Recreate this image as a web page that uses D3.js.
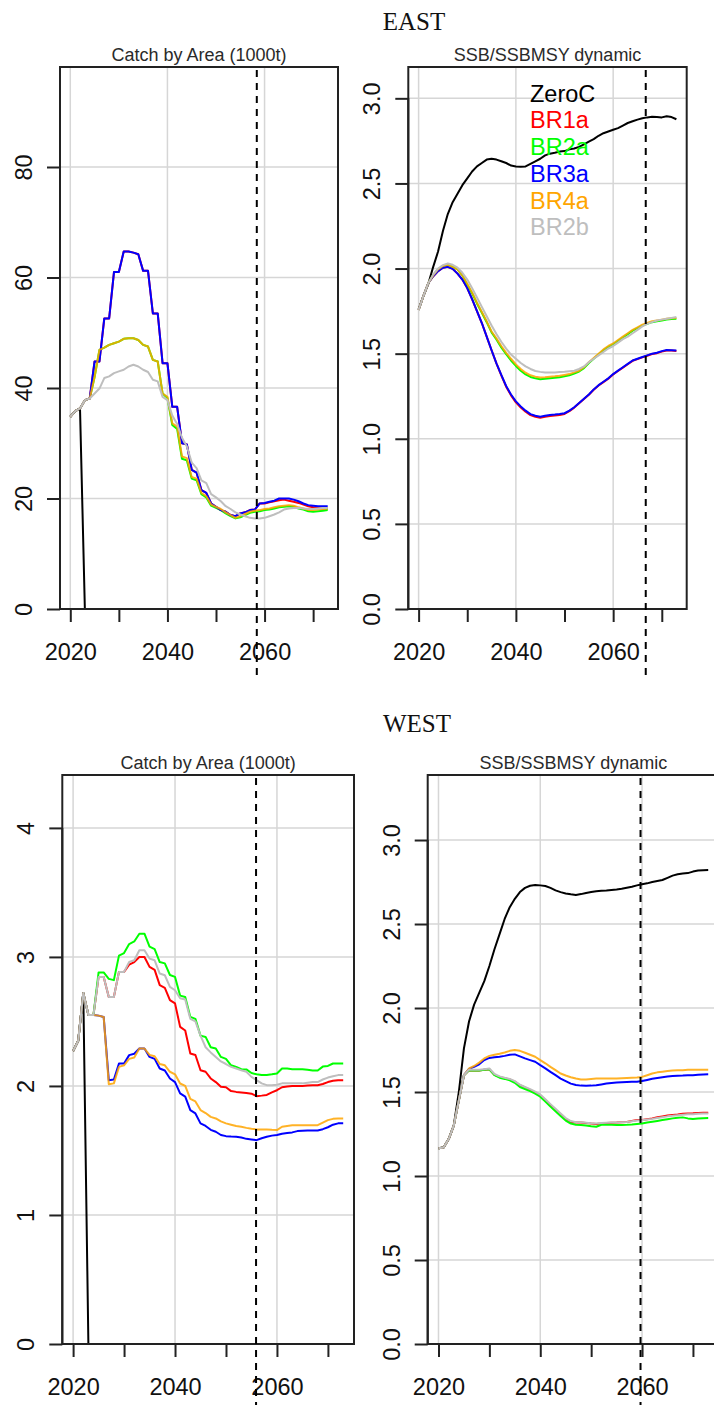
<!DOCTYPE html>
<html>
<head>
<meta charset="utf-8">
<script src="https://cdn.jsdelivr.net/npm/d3@7"></script>
<style>
  html, body { margin: 0; padding: 0; background: #ffffff; }
  svg { display: block; }
  text { font-family: "Liberation Sans", Arial, Helvetica, sans-serif; }
</style>
</head>
<body>
<svg id="chart" width="714" height="1405"></svg>
<script>
// ---------------- DATA ----------------
const years = [2020,2021,2022,2023,2024,2025,2026,2027,2028,2029,
  2030,2031,2032,2033,2034,2035,2036,2037,2038,2039,
  2040,2041,2042,2043,2044,2045,2046,2047,2048,2049,
  2050,2051,2052,2053,2054,2055,2056,2057,2058,2059,
  2060,2061,2062,2063,2064,2065,2066,2067,2068,2069,
  2070,2071,2072,2073];

const seriesNames = ["ZeroC", "BR1a", "BR2a", "BR3a", "BR4a", "BR2b"];
const seriesColors = ["#000000", "#ff0000", "#00ff00", "#0000ff", "#ffa500", "#bebebe"];

const regionLabels = ["EAST", "WEST"];
const panelTitles = ["Catch by Area (1000t)", "SSB/SSBMSY dynamic"];

const xTickYears = [2020, 2030, 2040, 2050, 2060, 2070];
const xLabelYears = [2020, 2040, 2060];
const gridYears = [2020, 2040, 2060];
const eastCatchTicks = [0, 20, 40, 60, 80];
const westCatchTicks = [0, 1, 2, 3, 4];
const ssbTicks = [0, 0.5, 1, 1.5, 2, 2.5, 3];
// vertical dashed reference year: eastCatch, eastSsb, westCatch, westSsb
const markYears = [2058.4, 2066.7, 2055.9, 2059.7];

// EAST catch (1000 t)
const eastCatchZeroC = [34.8,35.8,36.3,0,0,0,0,0,0,0,
  0,0,0,0,0,0,0,0,0,0, 0,0,0,0,0,0,0,0,0,0, 0,0,0,0,0,0,0,0,0,0, 0,0,0,0,0,0,0,0,0,0, 0,0,0,0];
const eastCatchBR1a = [34.8,35.8,36.3,37.8,38.1,44.8,44.8,52.6,52.6,61.0,
  61.0,64.7,64.7,64.5,64.2,61.2,61.2,53.5,53.5,44.5,
  44.5,36.6,36.6,30.0,29.8,25.2,24.7,21.5,21.0,19.1,
  18.5,17.9,17.6,17.0,16.8,17.3,17.5,17.9,18.0,19.1,
  19.1,19.3,19.5,19.7,19.8,19.6,19.4,19.2,18.9,18.6,
  18.4,18.3,18.2,18.2];
const eastCatchBR2a = [34.8,35.8,36.3,37.8,38.1,42.0,46.9,47.3,47.8,48.1,
  48.4,48.9,49.0,49.0,48.7,47.8,47.5,45.1,44.8,39.0,
  38.2,33.3,32.6,27.2,26.9,23.6,23.3,20.8,20.2,18.7,
  18.3,17.9,17.3,16.8,16.4,16.6,17.0,17.4,17.6,17.7,
  17.9,18.0,18.2,18.4,18.5,18.6,18.5,18.2,18.0,17.7,
  17.6,17.7,17.8,17.9];
const eastCatchBR3a = [34.8,35.8,36.3,37.8,38.1,44.8,44.8,52.6,52.6,61.0,
  61.0,64.7,64.7,64.5,64.2,61.2,61.2,53.5,53.5,44.5,
  44.5,36.6,36.6,30.0,29.8,25.2,24.7,21.5,21.0,19.1,
  18.5,17.9,17.6,17.0,16.8,17.3,17.5,17.9,18.0,19.1,
  19.2,19.4,19.6,20.0,20.0,20.0,19.8,19.5,19.1,18.8,
  18.7,18.6,18.6,18.6];
const eastCatchBR4a = [34.8,35.8,36.3,37.8,38.1,42.0,46.9,47.3,47.8,48.1,
  48.4,48.9,49.0,49.0,48.7,47.8,47.5,45.1,44.8,39.0,
  38.4,33.6,33.0,27.6,27.3,23.9,23.6,21.0,20.4,18.9,
  18.5,18.1,17.5,17.0,16.5,16.8,17.2,17.6,17.8,17.9,
  18.1,18.2,18.4,18.6,18.7,18.8,18.7,18.4,18.2,17.9,
  17.9,18.0,18.1,18.2];
const eastCatchBR2b = [34.8,35.8,36.3,37.8,38.1,39.0,39.9,41.8,42.1,42.7,
  43.0,43.3,43.9,44.2,43.9,43.3,42.9,41.5,41.2,38.4,
  37.8,35.0,33.5,31.0,29.4,26.5,25.5,23.3,22.8,20.8,
  20.2,19.5,18.6,18.1,17.5,17.1,16.8,16.5,16.4,16.4,
  16.5,16.8,17.1,17.5,18.0,18.2,18.3,18.3,18.2,18.1,
  18.1,18.2,18.3,18.3];

// EAST SSB/SSBMSY
const eastSsbZeroC = [1.76,1.84,1.91,2.01,2.10,2.22,2.32,2.39,2.44,2.49,
  2.53,2.57,2.60,2.62,2.64,2.645,2.64,2.63,2.62,2.605,
  2.60,2.598,2.60,2.615,2.63,2.645,2.665,2.675,2.68,2.687,
  2.69,2.70,2.705,2.715,2.73,2.745,2.76,2.78,2.795,2.805,
  2.815,2.825,2.84,2.855,2.865,2.875,2.883,2.888,2.892,2.89,
  2.888,2.895,2.89,2.877];
const eastSsbBR1a = [1.757,1.84,1.915,1.955,1.985,2.005,2.01,1.998,1.97,1.935,
  1.885,1.82,1.75,1.68,1.60,1.52,1.443,1.372,1.306,1.255,
  1.214,1.184,1.159,1.139,1.129,1.124,1.129,1.134,1.137,1.14,
  1.146,1.162,1.183,1.208,1.233,1.258,1.288,1.313,1.333,1.353,
  1.378,1.398,1.418,1.438,1.458,1.468,1.478,1.488,1.498,1.503,
  1.512,1.518,1.518,1.516];
const eastSsbBR2a = [1.757,1.84,1.915,1.96,1.995,2.015,2.022,2.01,1.995,1.96,
  1.905,1.855,1.795,1.74,1.685,1.625,1.583,1.537,1.497,1.46,
  1.428,1.40,1.378,1.363,1.355,1.35,1.352,1.355,1.358,1.362,
  1.367,1.373,1.383,1.395,1.415,1.445,1.47,1.495,1.52,1.54,
  1.555,1.575,1.595,1.615,1.635,1.65,1.665,1.675,1.685,1.69,
  1.695,1.70,1.703,1.705];
const eastSsbBR3a = [1.757,1.84,1.915,1.955,1.985,2.005,2.01,1.998,1.97,1.935,
  1.885,1.82,1.75,1.68,1.60,1.52,1.443,1.375,1.31,1.26,
  1.22,1.19,1.165,1.145,1.135,1.13,1.135,1.14,1.142,1.145,
  1.15,1.165,1.185,1.21,1.235,1.26,1.29,1.315,1.335,1.355,
  1.38,1.40,1.42,1.44,1.46,1.47,1.48,1.49,1.50,1.505,
  1.515,1.522,1.52,1.518];
const eastSsbBR4a = [1.757,1.84,1.915,1.96,1.995,2.015,2.022,2.01,1.995,1.96,
  1.91,1.86,1.80,1.745,1.69,1.63,1.59,1.545,1.505,1.47,
  1.437,1.41,1.388,1.373,1.365,1.36,1.362,1.365,1.367,1.37,
  1.375,1.38,1.39,1.40,1.42,1.45,1.475,1.50,1.525,1.545,
  1.56,1.58,1.60,1.62,1.64,1.655,1.67,1.68,1.69,1.695,
  1.70,1.705,1.708,1.71];
const eastSsbBR2b = [1.757,1.84,1.915,1.965,2.00,2.02,2.03,2.022,2.005,1.975,
  1.935,1.885,1.83,1.775,1.72,1.665,1.615,1.57,1.53,1.495,
  1.47,1.445,1.425,1.41,1.398,1.393,1.39,1.39,1.39,1.392,
  1.394,1.397,1.40,1.41,1.425,1.45,1.47,1.49,1.51,1.53,
  1.545,1.565,1.585,1.60,1.62,1.64,1.66,1.675,1.685,1.695,
  1.70,1.705,1.71,1.715];

// WEST catch (1000 t)
const westCatchZeroC = [2.27,2.35,2.72,0,0,0,0,0,0,0,
  0,0,0,0,0,0,0,0,0,0, 0,0,0,0,0,0,0,0,0,0, 0,0,0,0,0,0,0,0,0,0, 0,0,0,0,0,0,0,0,0,0, 0,0,0,0];
const westCatchBR1a = [2.27,2.35,2.72,2.55,2.55,2.845,2.845,2.69,2.69,2.884,
  2.884,2.94,2.96,3.0,3.0,2.923,2.90,2.781,2.76,2.665,
  2.64,2.458,2.43,2.252,2.24,2.122,2.11,2.058,2.03,1.993,
  1.99,1.96,1.954,1.95,1.946,1.94,1.921,1.925,1.93,1.95,
  1.967,1.99,1.995,2.0,2.0,2.0,2.003,2.005,2.006,2.015,
  2.03,2.04,2.045,2.045];
const westCatchBR2a = [2.27,2.35,2.72,2.55,2.55,2.88,2.88,2.83,2.82,3.01,
  3.03,3.10,3.12,3.18,3.18,3.08,3.06,2.96,2.95,2.86,
  2.845,2.70,2.69,2.535,2.52,2.39,2.38,2.30,2.29,2.225,
  2.21,2.16,2.148,2.13,2.128,2.10,2.09,2.084,2.085,2.09,
  2.097,2.135,2.135,2.13,2.13,2.13,2.125,2.12,2.12,2.15,
  2.155,2.174,2.174,2.174];
const westCatchBR3a = [2.27,2.35,2.72,2.55,2.55,2.545,2.535,2.045,2.05,2.174,
  2.174,2.239,2.25,2.29,2.29,2.225,2.21,2.135,2.12,2.058,
  2.03,1.942,1.917,1.813,1.787,1.71,1.69,1.66,1.645,1.62,
  1.611,1.608,1.606,1.60,1.59,1.585,1.58,1.595,1.606,1.615,
  1.62,1.63,1.635,1.64,1.65,1.652,1.654,1.655,1.655,1.665,
  1.68,1.70,1.71,1.71];
const westCatchBR4a = [2.27,2.35,2.72,2.55,2.55,2.545,2.535,2.014,2.02,2.148,
  2.16,2.21,2.22,2.29,2.29,2.24,2.23,2.17,2.16,2.11,
  2.09,2.019,2.0,1.90,1.88,1.813,1.79,1.76,1.748,1.725,
  1.71,1.70,1.69,1.684,1.675,1.668,1.663,1.663,1.663,1.66,
  1.658,1.684,1.69,1.695,1.696,1.696,1.696,1.696,1.696,1.715,
  1.735,1.745,1.748,1.748];
const westCatchBR2b = [2.27,2.35,2.72,2.55,2.55,2.845,2.845,2.69,2.69,2.884,
  2.884,2.961,2.974,3.052,3.052,2.987,2.974,2.871,2.858,2.768,
  2.742,2.68,2.67,2.52,2.50,2.39,2.30,2.26,2.225,2.19,
  2.17,2.148,2.135,2.122,2.11,2.07,2.045,2.02,2.006,2.006,
  2.01,2.02,2.02,2.02,2.02,2.02,2.025,2.03,2.03,2.05,
  2.065,2.075,2.084,2.084];

// WEST SSB/SSBMSY
const westSsbZeroC = [1.165,1.17,1.22,1.30,1.50,1.76,1.92,2.02,2.09,2.16,
  2.25,2.35,2.44,2.53,2.60,2.65,2.69,2.715,2.728,2.732,
  2.73,2.726,2.715,2.70,2.69,2.682,2.677,2.673,2.678,2.685,
  2.69,2.695,2.698,2.70,2.703,2.706,2.71,2.716,2.722,2.73,
  2.737,2.742,2.75,2.756,2.762,2.775,2.788,2.796,2.80,2.803,
  2.812,2.818,2.82,2.821];
const westSsbBR1a = [1.165,1.17,1.22,1.30,1.45,1.60,1.63,1.628,1.628,1.632,
  1.635,1.602,1.59,1.582,1.575,1.562,1.54,1.527,1.513,1.498,
  1.48,1.452,1.423,1.395,1.367,1.34,1.322,1.318,1.318,1.315,
  1.312,1.31,1.312,1.315,1.317,1.318,1.32,1.322,1.328,1.333,
  1.333,1.338,1.343,1.35,1.355,1.36,1.363,1.366,1.37,1.372,
  1.373,1.375,1.377,1.377];
const westSsbBR2a = [1.165,1.17,1.22,1.30,1.45,1.60,1.63,1.628,1.628,1.632,
  1.635,1.60,1.585,1.578,1.57,1.555,1.53,1.518,1.505,1.49,
  1.472,1.443,1.413,1.385,1.357,1.33,1.312,1.305,1.304,1.30,
  1.296,1.293,1.305,1.305,1.305,1.304,1.304,1.305,1.307,1.31,
  1.312,1.318,1.323,1.328,1.333,1.338,1.343,1.347,1.349,1.343,
  1.34,1.342,1.344,1.345];
const westSsbBR3a = [1.165,1.17,1.22,1.30,1.45,1.60,1.638,1.65,1.665,1.69,
  1.703,1.707,1.71,1.715,1.722,1.724,1.712,1.70,1.69,1.68,
  1.66,1.641,1.62,1.60,1.58,1.565,1.55,1.542,1.538,1.537,
  1.538,1.54,1.545,1.55,1.554,1.556,1.558,1.56,1.561,1.561,
  1.565,1.572,1.579,1.584,1.588,1.592,1.595,1.597,1.598,1.60,
  1.60,1.602,1.604,1.605];
const westSsbBR4a = [1.165,1.17,1.22,1.30,1.45,1.60,1.64,1.655,1.675,1.70,
  1.715,1.722,1.728,1.735,1.745,1.75,1.745,1.734,1.722,1.71,
  1.69,1.671,1.65,1.63,1.61,1.598,1.588,1.58,1.575,1.575,
  1.578,1.58,1.58,1.58,1.58,1.58,1.582,1.584,1.585,1.586,
  1.59,1.60,1.61,1.617,1.621,1.625,1.628,1.63,1.63,1.632,
  1.633,1.633,1.633,1.633];
const westSsbBR2b = [1.165,1.17,1.22,1.30,1.45,1.60,1.633,1.632,1.632,1.636,
  1.64,1.607,1.593,1.585,1.578,1.565,1.543,1.53,1.517,1.502,
  1.485,1.457,1.428,1.40,1.372,1.345,1.327,1.32,1.32,1.317,
  1.314,1.313,1.315,1.317,1.318,1.318,1.32,1.322,1.326,1.33,
  1.332,1.336,1.34,1.345,1.35,1.355,1.358,1.362,1.365,1.367,
  1.368,1.37,1.372,1.372];

// ---------------- LAYOUT ----------------
const W = 714, H = 1405;
const svg = d3.select("#chart");
svg.append("rect").attr("width", W).attr("height", H).attr("fill", "#fff");

const xDomain = [2017.88, 2075.12];
const fontTick = 23.5;

const panels = [
  { left: 60,    right: 338,   top: 67,  bottom: 609,  yMax: 98.1,  ticks: eastCatchTicks, fmt: d3.format("d"),
    title: panelTitles[0], mark: markYears[0],
    series: [eastCatchZeroC, eastCatchBR1a, eastCatchBR2a, eastCatchBR3a, eastCatchBR4a, eastCatchBR2b] },
  { left: 408.3, right: 686.7, top: 67,  bottom: 609,  yMax: 3.184, ticks: ssbTicks, fmt: d3.format(".1f"),
    title: panelTitles[1], mark: markYears[1], legend: true,
    series: [eastSsbZeroC, eastSsbBR1a, eastSsbBR2a, eastSsbBR3a, eastSsbBR4a, eastSsbBR2b] },
  { left: 62.3,  right: 354,   top: 775, bottom: 1344, yMax: 4.41,  ticks: westCatchTicks, fmt: d3.format("d"),
    title: panelTitles[0], mark: markYears[2],
    series: [westCatchZeroC, westCatchBR1a, westCatchBR2a, westCatchBR3a, westCatchBR4a, westCatchBR2b] },
  { left: 427.7, right: 719,   top: 775, bottom: 1344, yMax: 3.387, ticks: ssbTicks, fmt: d3.format(".1f"),
    title: panelTitles[1], mark: markYears[3],
    series: [westSsbZeroC, westSsbBR1a, westSsbBR2a, westSsbBR3a, westSsbBR4a, westSsbBR2b] }
];

// Region labels
svg.append("text").text(regionLabels[0])
  .attr("x", 414).attr("y", 29.5).attr("text-anchor", "middle")
  .style("font-family", "'Liberation Serif', 'Times New Roman', serif")
  .style("font-size", "25px").attr("fill", "#111");
svg.append("text").text(regionLabels[1])
  .attr("x", 417).attr("y", 731.5).attr("text-anchor", "middle")
  .style("font-family", "'Liberation Serif', 'Times New Roman', serif")
  .style("font-size", "25px").attr("fill", "#111");

panels.forEach((p, pi) => {
  const x = d3.scaleLinear().domain(xDomain).range([p.left, p.right]);
  const y = d3.scaleLinear().domain([0, p.yMax]).range([p.bottom, p.top]);
  const g = svg.append("g");

  // grid
  g.selectAll("line.vgrid").data(gridYears).join("line")
    .attr("x1", d => x(d)).attr("x2", d => x(d))
    .attr("y1", p.top).attr("y2", p.bottom)
    .attr("stroke", "#d6d6d6").attr("stroke-width", 1.5);
  g.selectAll("line.hgrid").data(p.ticks).join("line")
    .attr("x1", p.left).attr("x2", p.right)
    .attr("y1", d => y(d)).attr("y2", d => y(d))
    .attr("stroke", "#d6d6d6").attr("stroke-width", 1.5);

  // title
  g.append("text").text(p.title)
    .attr("x", (p.left + p.right) / 2).attr("y", p.top - 6)
    .attr("text-anchor", "middle").style("font-size", "18px").attr("fill", "#2a2a2a");

  // series lines
  const line = d3.line().x((d, i) => x(years[i])).y(d => y(d));
  p.series.forEach((s, si) => {
    g.append("path").datum(s)
      .attr("d", line)
      .attr("fill", "none")
      .attr("stroke", seriesColors[si])
      .attr("stroke-opacity", si === 4 ? 0.85 : 1)
      .attr("stroke-width", 2)
      .attr("stroke-linejoin", "round");
  });

  // box
  g.append("rect")
    .attr("x", p.left).attr("y", p.top)
    .attr("width", p.right - p.left).attr("height", p.bottom - p.top)
    .attr("fill", "none").attr("stroke", "#222").attr("stroke-width", 2);

  // x axis
  const xAxis = d3.axisBottom(x).tickValues(xTickYears).tickSize(13)
    .tickFormat(d => xLabelYears.includes(d) ? String(d) : "");
  const gx = g.append("g").attr("transform", `translate(0,${p.bottom})`).call(xAxis);
  gx.select(".domain").remove();
  gx.selectAll(".tick line").attr("stroke", "#222").attr("stroke-width", 2);
  gx.selectAll(".tick text").attr("y", 51).attr("dy", 0)
    .style("font-size", fontTick + "px").style("font-family", "'Liberation Sans', Arial, sans-serif")
    .attr("fill", "#111");

  // y axis
  const yAxis = d3.axisLeft(y).tickValues(p.ticks).tickSize(13).tickFormat(p.fmt);
  const gy = g.append("g").attr("transform", `translate(${p.left},0)`).call(yAxis);
  gy.select(".domain").remove();
  gy.selectAll(".tick line").attr("stroke", "#222").attr("stroke-width", 2);
  gy.selectAll(".tick text")
    .attr("x", null).attr("dy", 0)
    .attr("transform", "translate(-28,0) rotate(-90)")
    .attr("text-anchor", "middle")
    .style("font-size", fontTick + "px").style("font-family", "'Liberation Sans', Arial, sans-serif")
    .attr("fill", "#111");
  gy.append("line")
    .attr("x1", 0).attr("x2", 0)
    .attr("y1", y(d3.min(p.ticks))).attr("y2", y(d3.max(p.ticks)))
    .attr("stroke", "#222").attr("stroke-width", 2);

  // dashed reference line
  g.append("line")
    .attr("x1", x(p.mark)).attr("x2", x(p.mark))
    .attr("y1", p.top + 3).attr("y2", p.bottom + 68)
    .attr("stroke", "#000").attr("stroke-width", 2)
    .attr("stroke-dasharray", "7,6");

  // legend
  if (p.legend) {
    seriesNames.forEach((name, si) => {
      g.append("text").text(name)
        .attr("x", 530).attr("y", 101.7 + si * 26.7)
        .style("font-size", "23.5px").attr("fill", seriesColors[si]);
    });
  }
});
</script>
</body>
</html>
